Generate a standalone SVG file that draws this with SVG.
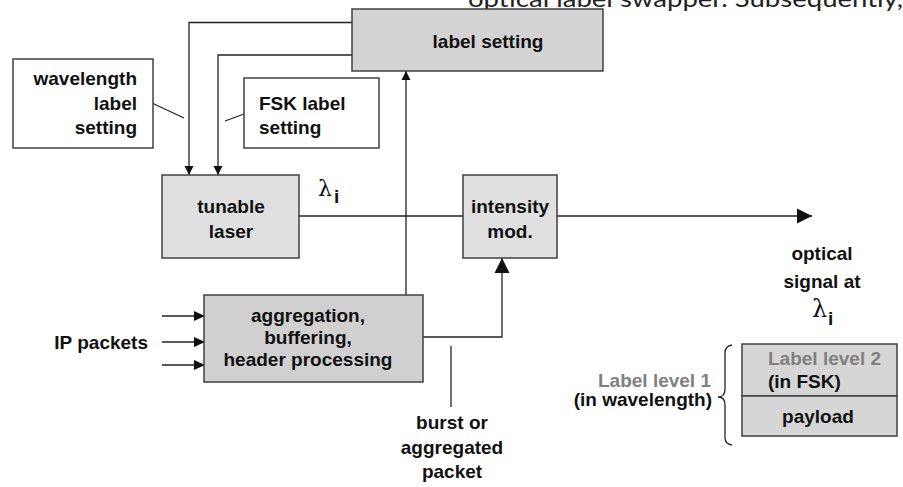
<svg xmlns="http://www.w3.org/2000/svg" width="903" height="487" viewBox="0 0 903 487">
<defs>
<style>
.box{stroke:#404040;stroke-width:1.5}
.t{font-family:"Liberation Sans",Arial,sans-serif;font-weight:bold;font-size:19px;fill:#111}
.c{text-anchor:middle}
.g{fill:#808080}
.ln{stroke:#222;stroke-width:1.3;fill:none}
.lam{font-family:"DejaVu Serif","Liberation Serif",serif;fill:#111}
</style>
<marker id="as" markerUnits="userSpaceOnUse" markerWidth="10" markerHeight="10" refX="9" refY="4.5" orient="auto" viewBox="0 0 10 9"><path d="M0,0 L9,4.5 L0,9 Z" fill="#111"/></marker>
<marker id="am" markerUnits="userSpaceOnUse" markerWidth="11" markerHeight="10" refX="11" refY="5" orient="auto" viewBox="0 0 11 10"><path d="M0,0 L11,5 L0,10 Z" fill="#111"/></marker>
<marker id="al" markerUnits="userSpaceOnUse" markerWidth="16" markerHeight="16" refX="15" refY="8" orient="auto" viewBox="0 0 16 16"><path d="M0,0.5 L15,8 L0,15.5 Z" fill="#111"/></marker>
</defs>
<rect width="903" height="487" fill="#fff"/>
<text x="468" y="7" font-family="Lato,'Open Sans',sans-serif" font-size="24" fill="#222" textLength="435" lengthAdjust="spacingAndGlyphs">optical label swapper. Subsequently,</text>

<g id="connectors">
<polyline class="ln" points="352,22.5 189,22.5 189,175" marker-end="url(#as)"/>
<polyline class="ln" points="352,55 218,55 218,175" marker-end="url(#as)"/>
<line class="ln" x1="406" y1="295" x2="406" y2="71" marker-end="url(#as)"/>
<line class="ln" x1="299" y1="216" x2="463" y2="216"/>
<line class="ln" x1="557" y1="216" x2="812" y2="216" marker-end="url(#al)"/>
<polyline class="ln" points="423,337 502,337 502,258" marker-end="url(#al)"/>
<line class="ln" x1="162" y1="316" x2="205" y2="316" marker-end="url(#am)"/>
<line class="ln" x1="162" y1="342" x2="205" y2="342" marker-end="url(#am)"/>
<line class="ln" x1="162" y1="365" x2="205" y2="365" marker-end="url(#am)"/>
<line class="ln" x1="152" y1="103" x2="184" y2="118"/>
<line class="ln" x1="225" y1="121" x2="244" y2="114"/>
<line class="ln" x1="451" y1="346" x2="451" y2="407"/>
</g>

<g id="label-setting">
<rect class="box" x="352" y="9" width="251" height="62" fill="#d3d3d3"/>
<text class="t c" x="488" y="48">label setting</text>
</g>

<g id="wavelength-label-setting">
<rect class="box" x="13" y="59" width="140" height="89" fill="#fff"/>
<text class="t" x="137" y="85" text-anchor="end">wavelength</text>
<text class="t" x="137" y="110" text-anchor="end">label</text>
<text class="t" x="137" y="134" text-anchor="end">setting</text>
</g>

<g id="fsk-label-setting">
<rect class="box" x="244" y="78" width="135" height="70" fill="#fff"/>
<text class="t" x="259" y="110">FSK label</text>
<text class="t" x="259" y="134">setting</text>
</g>

<g id="tunable-laser">
<rect class="box" x="162" y="175" width="137" height="83" fill="#e0e0e0"/>
<text class="t c" x="231" y="213">tunable</text>
<text class="t c" x="231" y="238">laser</text>
</g>

<g id="lambda-label">
<text class="lam" x="318" y="196" font-size="22">λ</text>
<text class="t" x="334" y="203" font-size="13">i</text>
</g>

<g id="intensity-mod">
<rect class="box" x="463" y="175" width="94" height="83" fill="#e0e0e0"/>
<text class="t c" x="510" y="213">intensity</text>
<text class="t c" x="510" y="238">mod.</text>
</g>

<g id="aggregation">
<rect class="box" x="204" y="295" width="219" height="87" fill="#d0d0d0"/>
<text class="t c" x="308" y="322">aggregation,</text>
<text class="t c" x="308" y="344">buffering,</text>
<text class="t c" x="308" y="366">header processing</text>
</g>

<g id="ip-packets">
<text class="t" x="148" y="349" text-anchor="end">IP packets</text>
</g>

<g id="burst-label">
<text class="t c" x="452" y="429" font-size="18">burst or</text>
<text class="t c" x="452" y="454" font-size="18">aggregated</text>
<text class="t c" x="452" y="478" font-size="18">packet</text>
</g>

<g id="optical-signal">
<text class="t c" x="822" y="260" font-size="22">optical</text>
<text class="t c" x="822" y="288" font-size="22">signal at</text>
<text class="lam" x="812" y="317" font-size="24">λ</text>
<text class="t" x="828" y="325" font-size="14">i</text>
</g>

<g id="label-level-1">
<text class="t g" x="711" y="387" text-anchor="end" font-size="17">Label level 1</text>
<text class="t" x="712" y="406" text-anchor="end" font-size="17">(in wavelength)</text>
<path class="ln" d="M732,345 Q725,346 725,353 L725,389 Q725,397 718,397 Q725,397 725,405 L725,438 Q725,444 732,445"/>
</g>

<g id="packet-format">
<rect class="box" x="742" y="344" width="155" height="52" fill="#d6d6d6"/>
<rect class="box" x="742" y="396" width="155" height="40" fill="#d6d6d6"/>
<text class="t g" x="768" y="365" font-size="17">Label level 2</text>
<text class="t" x="768" y="388" font-size="17">(in FSK)</text>
<text class="t c" x="818" y="423" font-size="17">payload</text>
</g>
</svg>
